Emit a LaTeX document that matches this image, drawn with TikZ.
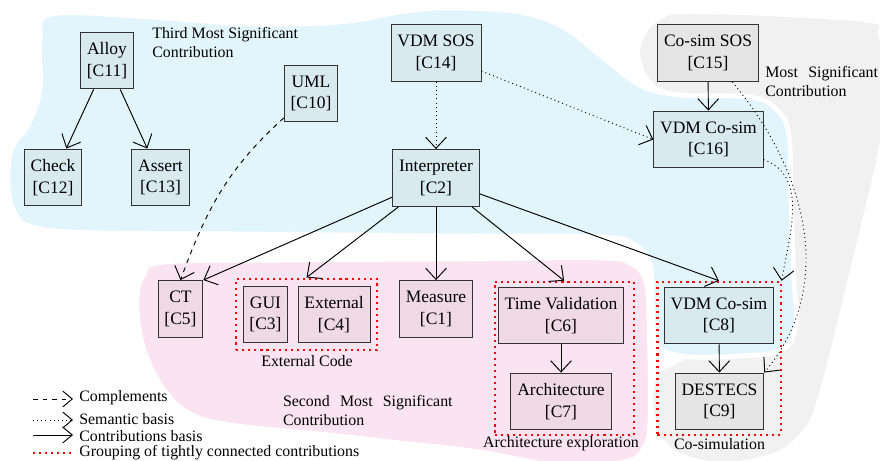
\documentclass[tikz,border=0pt]{standalone}
\usepackage{fontspec}
\setmainfont{Liberation Serif}
\usetikzlibrary{arrows.meta,fit,positioning}
\hyphenpenalty=10000
\tolerance=10000

\definecolor{blueblob}{HTML}{E3F5FC}
\definecolor{pinkblob}{HTML}{FBE4F1}
\definecolor{grayblob}{HTML}{F1F1F1}
\definecolor{bluenode}{HTML}{D9E9F0}
\definecolor{pinknode}{HTML}{EFD9E5}
\definecolor{graynode}{HTML}{E5E5E5}
\definecolor{boxline}{HTML}{333333}

\tikzset{
  box/.style={draw=boxline, line width=0.6pt, inner xsep=4pt, inner ysep=2pt,
    minimum height=35.8pt, align=center, font=\fontsize{11}{13.6}\selectfont},
  bluebox/.style={box, fill=bluenode},
  pinkbox/.style={box, fill=pinknode},
  graybox/.style={box, fill=graynode},
  groupbox/.style={draw=red, line width=1.3pt, dash pattern=on 1.3pt off 2.5pt,
    inner xsep=4pt, inner ysep=3pt},
  lbl/.style={font=\fontsize{10}{12}\selectfont, inner sep=0pt},
  blob/.style={draw=white, line width=3pt},
  contrib/.style={line width=0.6pt, -{Straight Barb[length=7pt,width=13pt]}},
  semantic/.style={contrib, dotted},
  complement/.style={contrib, dashed},
  legtip/.style={-{Straight Barb[length=6pt,width=10pt]}},
}

\begin{document}
\begin{tikzpicture}[x=0.629pt, y=-0.629pt]
\useasboundingbox (0,0) rectangle (880,461);

% contribution areas
\path[fill=grayblob] plot[smooth cycle, tension=0.6] coordinates {
  (641,45) (660,20) (700,14) (862,22) (878,35) (882,80) (880,140) (850,270)
  (817,400) (800,433) (773,453) (720,462) (672,448) (654,412) (658,375)
  (685,358) (735,300) (745,160) (710,102) (665,90) (645,72)};
\path[fill=pinkblob, blob] plot[smooth cycle, tension=0.6] coordinates {
  (165,262) (300,260) (450,259) (600,258) (632,264) (646,282) (649,320)
  (650,420) (644,448) (625,462) (560,466) (480,452) (400,443) (330,435)
  (230,425) (190,414) (168,395) (151,368) (140,335) (137,300) (143,276)};
\path[fill=blueblob, blob] plot[smooth cycle, tension=0.6] coordinates {
  (52,14) (150,17) (250,24) (340,22) (400,12) (447,8) (520,12) (565,28)
  (600,55) (640,85) (680,95) (750,97) (777,110) (789,135) (791,200)
  (794,280) (796,325) (782,350) (740,356) (680,356) (656,342) (652,300)
  (650,265) (635,245) (600,237) (450,236) (250,234) (100,233) (35,228)
  (14,212) (8,180) (12,148) (28,125) (40,90) (40,40)};

% contributions
\node[bluebox] (c11) at (107,60.5)  {Alloy\\{[C11]}};
\node[bluebox] (c12) at (53,177.5)  {Check\\{[C12]}};
\node[bluebox] (c13) at (160.5,177.5) {Assert\\{[C13]}};
\node[bluebox] (c10) at (311,93.5)  {UML\\{[C10]}};
\node[bluebox] (c14) at (436,53)    {VDM SOS\\{[C14]}};
\node[bluebox] (c2)  at (436,178)   {Interpreter\\{[C2]}};
\node[graybox] (c15) at (708,53)    {Co-sim SOS\\{[C15]}};
\node[bluebox] (c16) at (708.5,139.5) {VDM Co-sim\\{[C16]}};
\node[pinkbox] (c5)  at (180.5,309) {CT\\{[C5]}};
\node[pinkbox] (c3)  at (265.5,314.5) {GUI\\{[C3]}};
\node[pinkbox] (c4)  at (334,314.5) {External\\{[C4]}};
\node[pinkbox] (c1)  at (436,309)   {Measure\\{[C1]}};
\node[pinkbox] (c6)  at (561,315.5) {Time Validation\\{[C6]}};
\node[pinkbox] (c7)  at (561,401.5) {Architecture\\{[C7]}};
\node[bluebox] (c8)  at (719,315.5) {VDM Co-sim\\{[C8]}};
\node[graybox] (c9)  at (719.5,401.5) {DESTECS\\{[C9]}};

% groups of tightly connected contributions
\node[groupbox, fit=(c3)(c4), inner ysep=4.4pt] (gext) {};
\node[groupbox, fit=(c6)(c7), xshift=2pt] (garch) {};
\node[groupbox, fit=(c8)(c9)] (gcosim) {};
\node[lbl] (lext) at (307,361) {External Code};
\node[lbl] (larch) at (561,444) {Architecture exploration};
\node[lbl] (lcosim) at (719.5,444) {Co-simulation};

% area captions
\node[lbl, anchor=west, align=left] (third) at (152,42.8)
  {Third Most Significant\\Contribution};
\node[lbl, anchor=west, text width=70.9pt, align=justify] (most) at (765,81.2)
  {Most Significant Contribution};
\node[lbl, anchor=west, text width=106.7pt, align=justify] (second) at (282.7,410.3)
  {Second Most Significant Contribution};

% relations
\draw[contrib] (c11) -- (c12);
\draw[contrib] (c11) -- (c13);
\draw[contrib] (c15) -- (c16);
\draw[contrib] (c2) -- (c5.north east);
\draw[contrib] (c2) -- (gext.north);
\draw[contrib] (c2) -- (c1);
\draw[contrib] (c2) -- (garch.north);
\draw[contrib] (c2) -- (gcosim.north);
\draw[contrib] (c6) -- (c7);
\draw[contrib] (c8) -- (c9);
\draw[semantic] (c14) -- (c2);
\draw[semantic] (c14) -- (c16.west);
\draw[semantic] (c16) to[out=-20, in=80] (gcosim.north east);
\draw[semantic] (c15) to[out=-50, in=50] (c9.north east);
\draw[complement] (c10) to[out=-138, in=70] (c5.north);

% legend
\coordinate (la) at (33,399);  \coordinate (lb) at (73,399);
\coordinate (ma) at (33,420);  \coordinate (mb) at (73,420);
\coordinate (na) at (33,435);  \coordinate (nb) at (73,435);
\coordinate (oa) at (33,453);  \coordinate (ob) at (72,453);
\draw[line width=0.6pt, dashed, legtip] (la) -- (lb);
\draw[line width=0.6pt, dotted, legtip] (ma) -- (mb);
\draw[line width=0.6pt, legtip] (na) -- (nb);
\draw[groupbox] (oa) -- (ob);
\node[lbl, anchor=west] (k1) at (79,398) {Complements};
\node[lbl, anchor=west] (k2) at (79,419) {Semantic basis};
\node[lbl, anchor=west] (k3) at (79,436) {Contributions basis};
\node[lbl, anchor=west] (k4) at (79,453) {Grouping of tightly connected contributions};
\end{tikzpicture}
\end{document}
